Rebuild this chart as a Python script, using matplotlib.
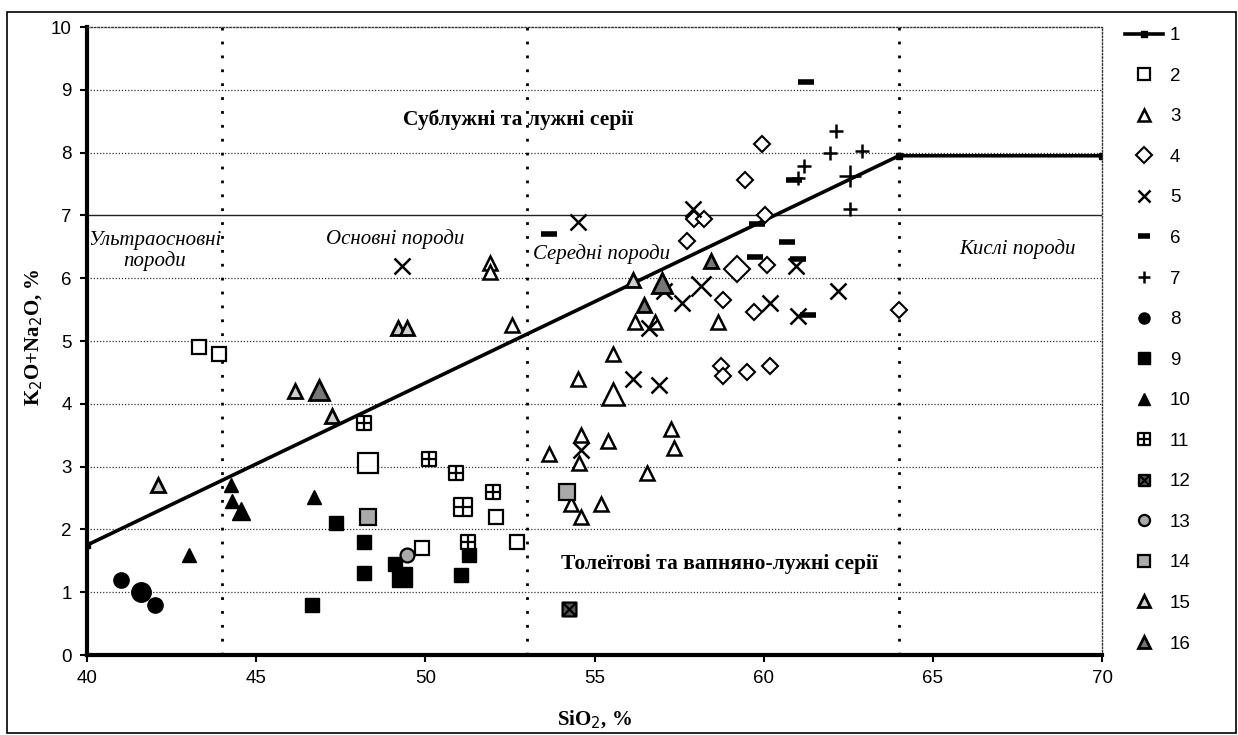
import numpy as np
import matplotlib
matplotlib.use("Agg")
import matplotlib.pyplot as plt
from matplotlib.lines import Line2D
from matplotlib.path import Path
from matplotlib.patches import Rectangle

plt.rcParams['font.family'] = ['Liberation Sans', 'DejaVu Sans']

# boundary line (series 1)
line1_x = [40, 64, 70]
line1_y = [1.75, 7.95, 7.95]

# series 2..16: SiO2, K2O+Na2O, big-marker flag
s2_x = [43.3, 43.9, 48.3, 52.1, 52.7, 49.9]
s2_y = [4.9, 4.8, 3.05, 2.2, 1.8, 1.7]
s2_big = [0, 0, 1, 0, 0, 0]

s3_x = [51.9, 51.9, 52.55, 56.2, 56.8, 58.65, 55.55, 54.5, 55.55, 53.65,
        54.6, 54.55, 55.4, 57.25, 57.35, 56.55, 54.3, 54.6, 55.2]
s3_y = [6.25, 6.1, 5.25, 5.3, 5.3, 5.3, 4.8, 4.4, 4.15, 3.2,
        3.5, 3.05, 3.4, 3.6, 3.3, 2.9, 2.4, 2.2, 2.4]
s3_big = [0, 0, 0, 0, 0, 0, 0, 0, 1, 0, 0, 0, 0, 0, 0, 0, 0, 0, 0]

s4_x = [59.95, 59.45, 60.05, 57.95, 58.25, 57.72, 59.2, 60.1, 58.8, 59.7,
        58.75, 58.8, 59.5, 60.2, 64.0]
s4_y = [8.14, 7.56, 7.0, 6.95, 6.94, 6.6, 6.15, 6.21, 5.66, 5.46,
        4.6, 4.45, 4.5, 4.6, 5.5]
s4_big = [0, 0, 0, 0, 0, 0, 1, 0, 0, 0, 0, 0, 0, 0, 0]

s5_x = [49.3, 54.5, 57.9, 58.15, 57.6, 57.05, 56.6, 56.15, 56.9, 60.2,
        60.95, 61.0, 62.2, 54.6]
s5_y = [6.2, 6.9, 7.1, 5.87, 5.6, 5.8, 5.2, 4.4, 4.3, 5.6,
        6.2, 5.4, 5.8, 3.27]
s5_big = [0, 0, 0, 1, 0, 0, 0, 0, 0, 0, 0, 0, 0, 0]

s6_x = [61.25, 53.65, 60.9, 59.8, 60.7, 59.75, 61.0, 61.3]
s6_y = [9.12, 6.7, 7.57, 6.87, 6.57, 6.33, 6.3, 5.41]

s7_x = [62.15, 61.95, 62.9, 61.2, 62.55, 62.55, 61.0]
s7_y = [8.35, 7.99, 8.03, 7.78, 7.62, 7.1, 7.6]
s7_big = [0, 0, 0, 0, 1, 0, 0]

s8_x = [41.0, 41.6, 42.0]
s8_y = [1.2, 1.0, 0.8]
s8_big = [0, 1, 0]

s9_x = [47.35, 48.2, 48.2, 46.65, 49.1, 49.3, 51.05, 51.3]
s9_y = [2.1, 1.8, 1.3, 0.8, 1.45, 1.25, 1.28, 1.6]
s9_big = [0, 0, 0, 0, 0, 1, 0, 0]

s10_x = [44.25, 44.3, 44.55, 43.0, 46.7]
s10_y = [2.7, 2.45, 2.3, 1.6, 2.52]
s10_big = [0, 0, 1, 0, 0]

s11_x = [48.2, 50.1, 50.9, 52.0, 51.1, 51.25]
s11_y = [3.7, 3.12, 2.9, 2.6, 2.35, 1.8]
s11_big = [0, 0, 0, 0, 1, 0]

s12_x = [54.25]
s12_y = [0.73]

s13_x = [49.45]
s13_y = [1.6]

s14_x = [48.3, 54.2]
s14_y = [2.2, 2.6]

s15_x = [42.1, 46.15, 47.25, 56.15, 49.2, 49.45]
s15_y = [2.7, 4.2, 3.8, 5.97, 5.2, 5.2]

s16_x = [46.85, 57.0, 58.45, 56.45]
s16_y = [4.22, 5.93, 6.27, 5.58]
s16_big = [1, 1, 0, 0]

labels = [str(i) for i in range(1, 17)]

# custom markers
M, L, C = Path.MOVETO, Path.LINETO, Path.CLOSEPOLY
box_plus = Path([(-1, -1), (1, -1), (1, 1), (-1, 1), (-1, -1), (0, -1), (0, 1), (-1, 0), (1, 0)],
                [M, L, L, L, C, M, L, M, L])
box_x = Path([(-1, -1), (1, -1), (1, 1), (-1, 1), (-1, -1), (-1, -1), (1, 1), (-1, 1), (1, -1)],
             [M, L, L, L, C, M, L, M, L])

fig = plt.figure(figsize=(12.38, 7.35), dpi=100)
ax = fig.add_axes([87/1238, 1-655/735, 1015/1238, 628/735])
fig.patches.append(Rectangle((7/1238, 2/735), 1229/1238, 721/735, transform=fig.transFigure,
                             fill=False, ec='black', lw=1.2))

ax.set_xlim(40, 70)
ax.set_ylim(0, 10)

# grid
for yv in range(1, 10):
    if yv == 7:
        ax.axhline(yv, color='#222222', lw=1.0, zorder=1)
    else:
        ax.axhline(yv, color='#333333', lw=0.9, ls=(0, (1, 1.5)), zorder=1)
for xv in [44, 53, 64]:
    ax.axvline(xv, color='black', lw=2.0, ls=(0, (1, 4)), zorder=1)

ax.spines['left'].set_linewidth(3)
ax.spines['bottom'].set_linewidth(3)
for sp in ['top', 'right']:
    ax.spines[sp].set_linestyle((0, (1, 1.5)))
    ax.spines[sp].set_linewidth(1.0)
    ax.spines[sp].set_color('#333333')

ax.set_xticks(range(40, 71, 5))
ax.set_yticks(range(0, 11))
ax.tick_params(direction='out', length=5, width=1.5, labelsize=13.5, pad=6)


def pts(xs, ys, big, ms, big_ms, **kw):
    xs = np.array(xs)
    ys = np.array(ys)
    if big is None:
        big = [0] * len(xs)
    b = np.array(big, dtype=bool)
    ax.plot(xs[~b], ys[~b], ls='none', ms=ms, zorder=3, **kw)
    if b.any():
        ax.plot(xs[b], ys[b], ls='none', ms=big_ms, zorder=3, **kw)


ax.plot(line1_x, line1_y, color='black', lw=2.6, marker='s', ms=4, zorder=2)

st2 = dict(marker='s', mfc='white', mec='black', mew=1.6)
st3 = dict(marker='^', mfc='white', mec='black', mew=1.8)
st4 = dict(marker='D', mfc='white', mec='black', mew=1.5)
st5 = dict(marker='x', color='black', mew=1.8)
st6 = dict(marker='_', color='black', mew=4)
st7 = dict(marker='+', color='black', mew=1.8)
st8 = dict(marker='o', color='black')
st9 = dict(marker='s', color='black')
st10 = dict(marker='^', color='black')
st11 = dict(marker=box_plus, mfc='white', mec='black', mew=1.6)
st12 = dict(marker=box_x, mfc='#555555', mec='black', mew=1.6)
st13 = dict(marker='o', mfc='#aaaaaa', mec='black', mew=1.6)
st14 = dict(marker='s', mfc='#aaaaaa', mec='black', mew=1.6)
st15 = dict(marker='^', mfc='#cfcfcf', mec='black', mew=2.0)
st16 = dict(marker='^', mfc='#777777', mec='black', mew=2.0)

pts(s2_x, s2_y, s2_big, 10, 14, **st2)
pts(s3_x, s3_y, s3_big, 10, 16, **st3)
pts(s4_x, s4_y, s4_big, 8, 13, **st4)
pts(s5_x, s5_y, s5_big, 11, 15, **st5)
pts(s6_x, s6_y, None, 11, 11, **st6)
pts(s7_x, s7_y, s7_big, 10, 16, **st7)
pts(s8_x, s8_y, s8_big, 11, 14, **st8)
pts(s9_x, s9_y, s9_big, 10, 14, **st9)
pts(s10_x, s10_y, s10_big, 10, 13, **st10)
pts(s11_x, s11_y, s11_big, 10, 13, **st11)
pts(s12_x, s12_y, None, 10, 10, **st12)
pts(s13_x, s13_y, None, 10, 10, **st13)
pts(s14_x, s14_y, None, 11, 11, **st14)
pts(s15_x, s15_y, None, 10, 10, **st15)
pts(s16_x, s16_y, s16_big, 10, 15, **st16)

# region labels
serif = 'Liberation Serif'
ax.text(52.75, 8.52, 'Сублужні та лужні серії', family=serif, weight='bold', fontsize=15.5,
        ha='center', va='center')
ax.text(58.7, 1.45, 'Толеїтові та вапняно-лужні серії', family=serif, weight='bold', fontsize=15.5,
        ha='center', va='center')
ax.text(42.0, 6.43, 'Ультраосновні\nпороди', family=serif, style='italic', fontsize=15,
        ha='center', va='center', linespacing=1.05)
ax.text(49.1, 6.62, 'Основні породи', family=serif, style='italic', fontsize=15,
        ha='center', va='center')
ax.text(55.2, 6.39, 'Середні породи', family=serif, style='italic', fontsize=15,
        ha='center', va='center')
ax.text(67.5, 6.47, 'Кислі породи', family=serif, style='italic', fontsize=15,
        ha='center', va='center')

ax.set_xlabel('SiO$_2$, %', family=serif, weight='bold', fontsize=15)
ax.set_ylabel('K$_2$O+Na$_2$O, %', family=serif, weight='bold', fontsize=15)
ax.xaxis.set_label_coords(0.5, -0.086)
ax.yaxis.set_label_coords(-0.041, 0.506)

# legend
handles = [Line2D([], [], color='black', lw=2.6, marker='s', ms=4)]
for st in [st2, st3, st4, st5, st6, st7, st8, st9, st10, st11, st12, st13, st14, st15, st16]:
    handles.append(Line2D([], [], ls='none', ms=8, **st))
fig.legend(handles, labels, loc='upper left', bbox_to_anchor=(1125/1238, 1-27/735),
           frameon=False, fontsize=13.5, labelspacing=1.25, handlelength=2.0,
           handletextpad=0.4, borderpad=0, borderaxespad=0)

fig.savefig('out.png', dpi=100)
